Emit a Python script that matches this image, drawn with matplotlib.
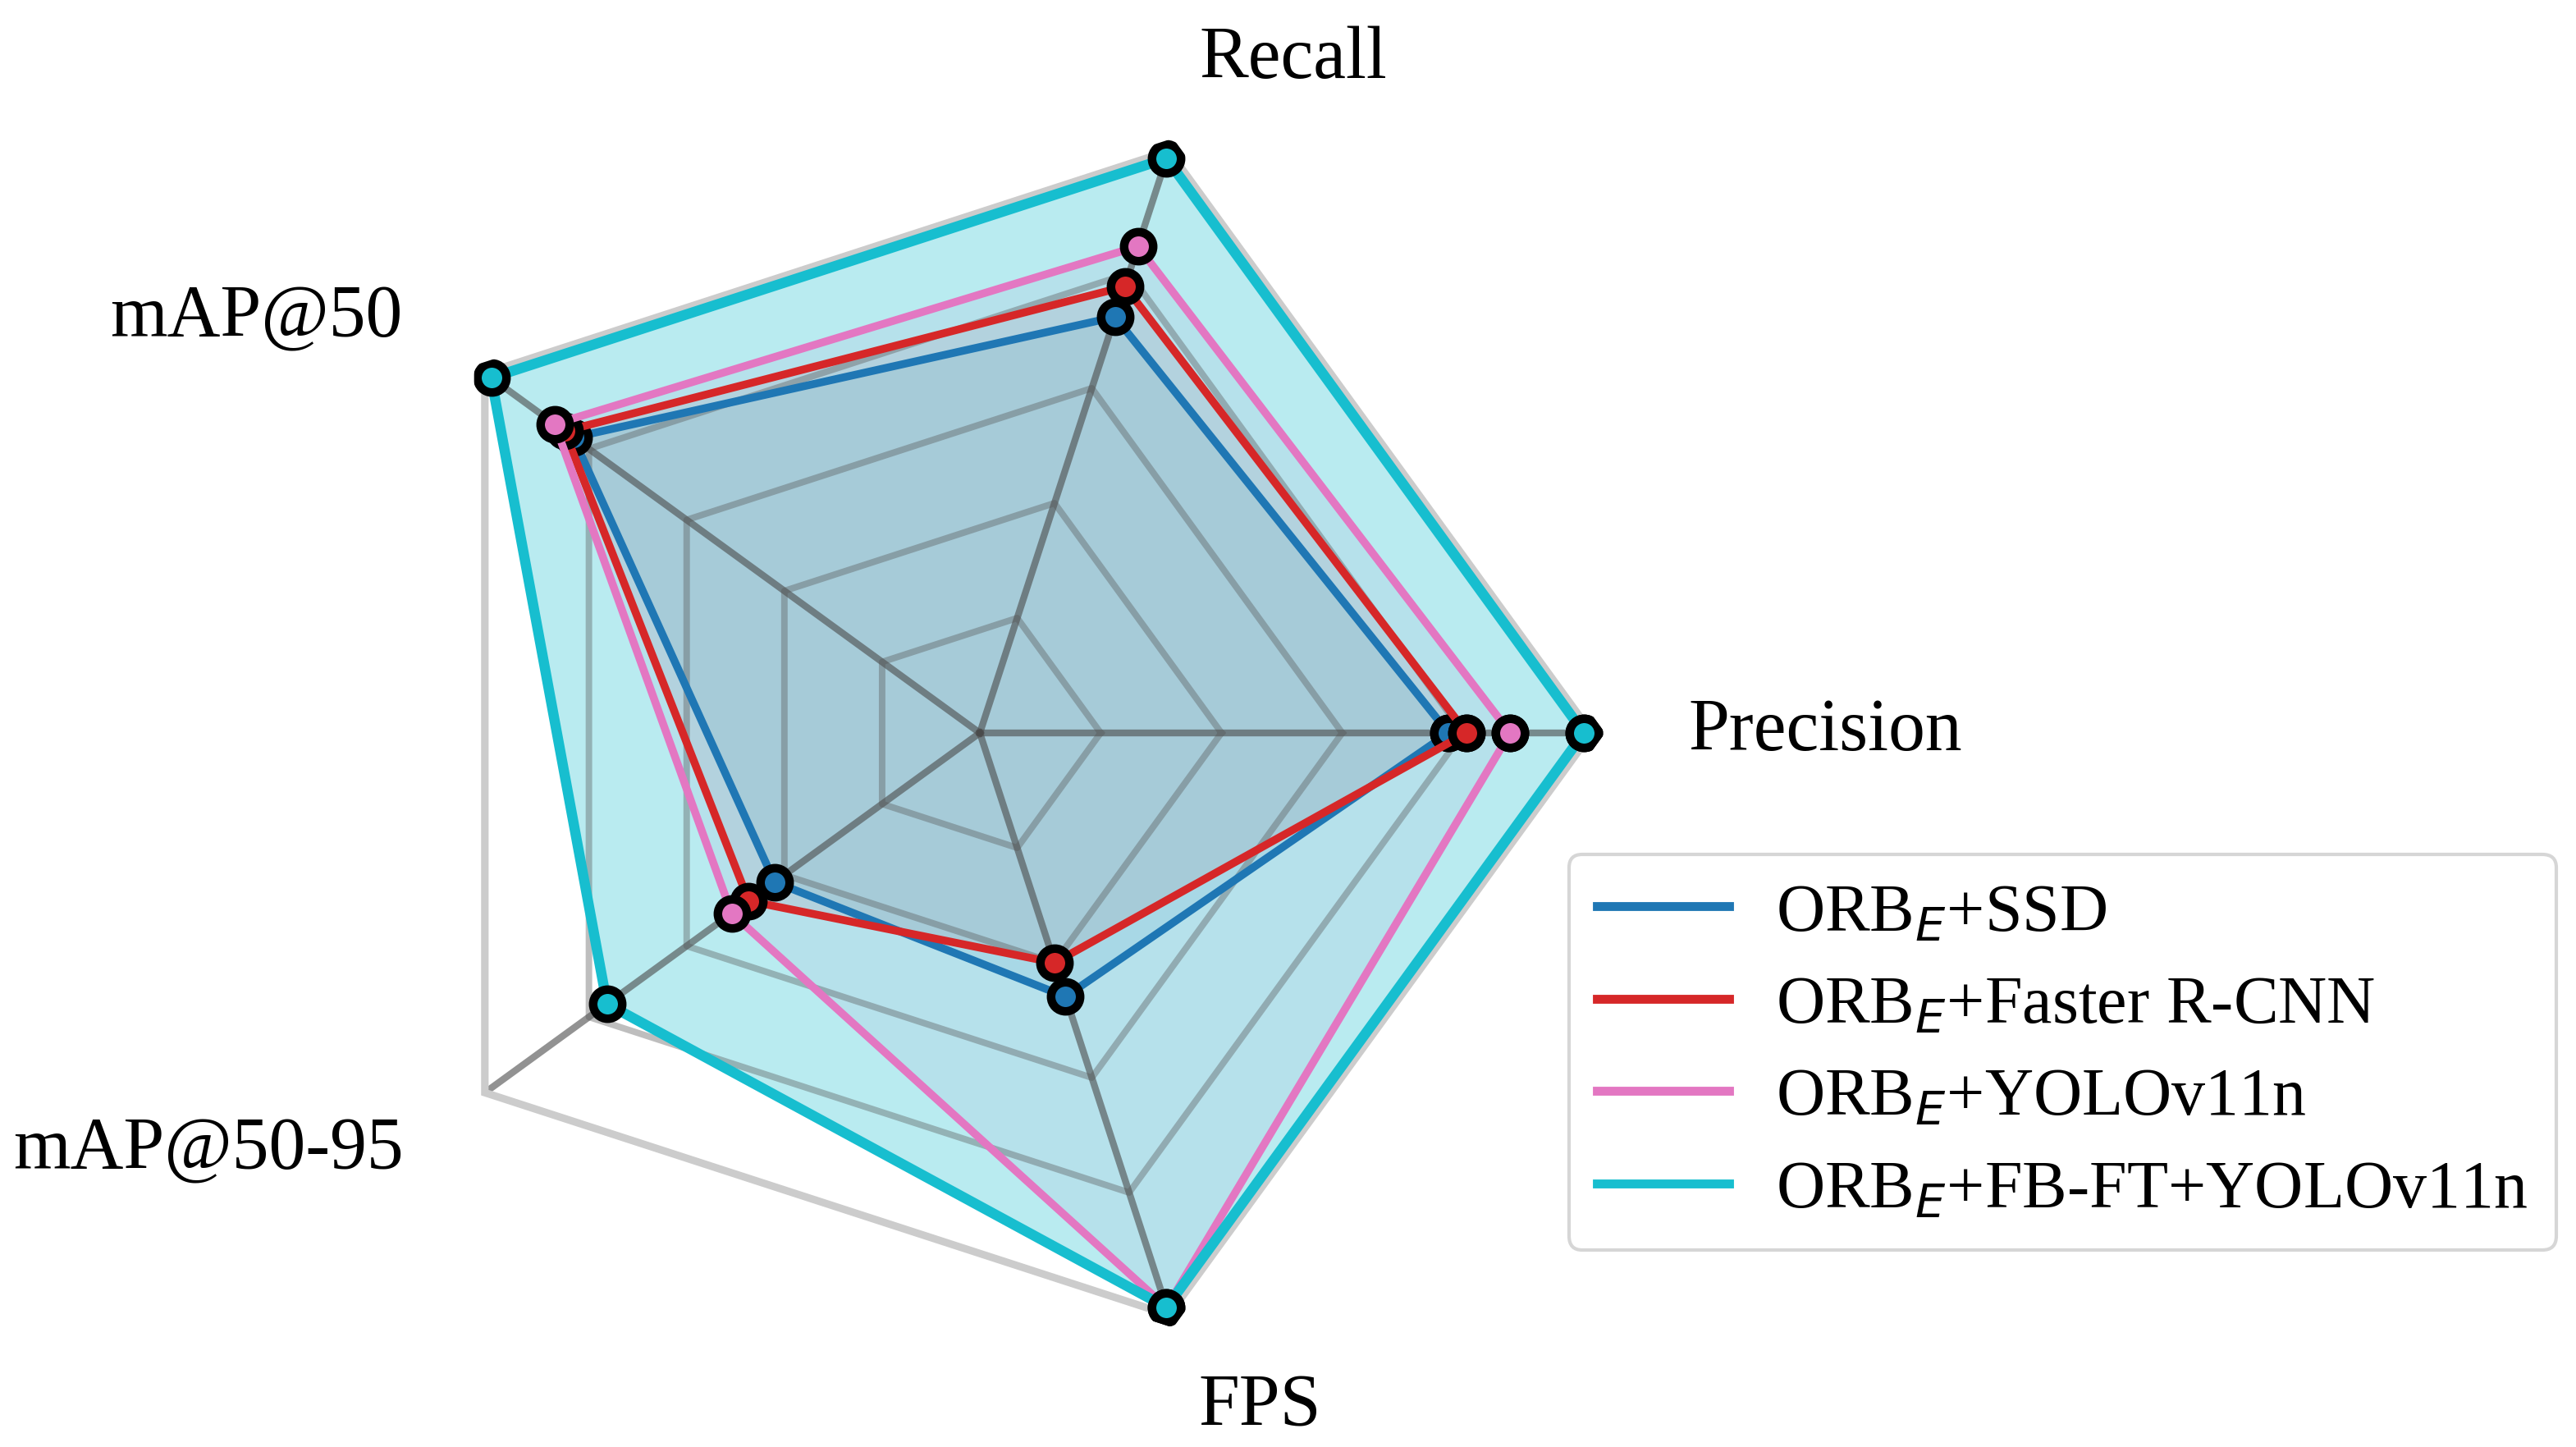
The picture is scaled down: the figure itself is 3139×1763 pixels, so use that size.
import numpy as np
import matplotlib.pyplot as plt
from matplotlib.lines import Line2D
from matplotlib.patches import RegularPolygon
from matplotlib.path import Path
from matplotlib.projections import register_projection
from matplotlib.projections.polar import PolarAxes
from matplotlib.spines import Spine
from matplotlib.transforms import Affine2D

plt.rcParams['font.family'] = ['Liberation Serif', 'DejaVu Serif']
plt.rcParams['mathtext.fontset'] = 'dejavusans'

metrics = ["Precision", "Recall", "mAP@50", "mAP@50-95", "FPS"]
models = [r"ORB$_E$+SSD", r"ORB$_E$+Faster R-CNN", r"ORB$_E$+YOLOv11n",
          r"ORB$_E$+FB-FT+YOLOv11n"]

# normalised scores, one list per model (order follows metrics)
ssd = [0.776, 0.724, 0.832, 0.420, 0.459]
faster_rcnn = [0.806, 0.777, 0.850, 0.473, 0.400]
yolov11n = [0.878, 0.847, 0.870, 0.508, 1.0]
fbft_yolov11n = [1.0, 1.0, 1.0, 0.763, 1.0]
scores = [ssd, faster_rcnn, yolov11n, fbft_yolov11n]

colors = ["#1f77b4", "#d62728", "#e377c2", "#17becf"]
fill_alpha = [0.1, 0.1, 0.1, 0.3]
line_width = [2.3, 2.3, 2.3, 3.0]

R_MAX = 1.013


def radar_factory(num_vars):
    theta = np.linspace(0, 2 * np.pi, num_vars, endpoint=False)

    class RadarTransform(PolarAxes.PolarTransform):
        def transform_path_non_affine(self, path):
            if path._interpolation_steps > 1:
                path = path.interpolated(num_vars)
            return Path(self.transform(path.vertices), path.codes)

    class RadarAxes(PolarAxes):
        name = "radar"
        PolarTransform = RadarTransform

        def _gen_axes_patch(self):
            return RegularPolygon((0.5, 0.5), num_vars, radius=0.5,
                                  orientation=-np.pi / 2)

        def _gen_axes_spines(self):
            spine = Spine(axes=self, spine_type="circle",
                          path=Path.unit_regular_polygon(num_vars))
            spine.set_transform(Affine2D().rotate(-np.pi / 2).scale(0.5)
                                .translate(0.5, 0.5) + self.transAxes)
            return {"polar": spine}

    register_projection(RadarAxes)
    return theta


theta = radar_factory(len(metrics))
theta_closed = np.append(theta, theta[0])

fig = plt.figure(figsize=(3139 / 300, 1763 / 300), dpi=300)
ax = fig.add_axes([0.14285, 0.07056, 0.47506, 0.84583], projection="radar")
ax.set_ylim(0, R_MAX)

ax.set_thetagrids(np.degrees(theta), [""] * len(metrics))
ax.set_yticks([0.2, 0.4, 0.6, 0.8])
ax.set_yticklabels([])
ax.tick_params(axis="both", length=0)
ax.xaxis.grid(True, color="#4a4a4a", alpha=0.6, lw=2.0)
ax.yaxis.grid(True, color="#555555", alpha=0.38, lw=1.9)
ax.spines["polar"].set_color("#cccccc")
ax.spines["polar"].set_linewidth(2.2)

for vals, c, fa in zip(scores, colors, fill_alpha):
    v = np.append(vals, vals[0])
    ax.fill(theta_closed, v, color=c, alpha=fa, lw=0)

# series lines are clipped to a slightly wider pentagon than the frame
line_clip = RegularPolygon((0.5, 0.5), len(metrics), radius=0.5 * 1.035 / R_MAX,
                           orientation=-np.pi / 2, transform=ax.transAxes)
for vals, c, lw in zip(scores, colors, line_width):
    v = np.append(vals, vals[0])
    line, = ax.plot(theta_closed, v, color=c, lw=lw, marker="o", ms=8.5,
                    mfc=c, mec="black", mew=2.5, zorder=3)
    line.set_clip_path(line_clip)

# axis names, placed around the frame
label_theta = [-1.4, 64.4, 151.3, 209.5, 292.0]
label_r = [1.174, 1.202, 1.366, 1.467, 1.237]
label_ha = ["left", "center", "center", "center", "center"]
for name, t, r, ha in zip(metrics, label_theta, label_r, label_ha):
    ax.text(np.deg2rad(t), r, name, ha=ha, va="baseline", fontsize=21.5,
            clip_on=False)

handles = [Line2D([], [], color=c, lw=2.6) for c in colors]
fig.legend(handles, models, loc="upper left", bbox_to_anchor=(0.6091, 0.4095),
           bbox_transform=fig.transFigure, borderaxespad=0, fontsize=19.7,
           handlelength=1.95, handletextpad=0.7, labelspacing=0.45,
           borderpad=0.42)

fig.savefig("out.png", dpi=300)
